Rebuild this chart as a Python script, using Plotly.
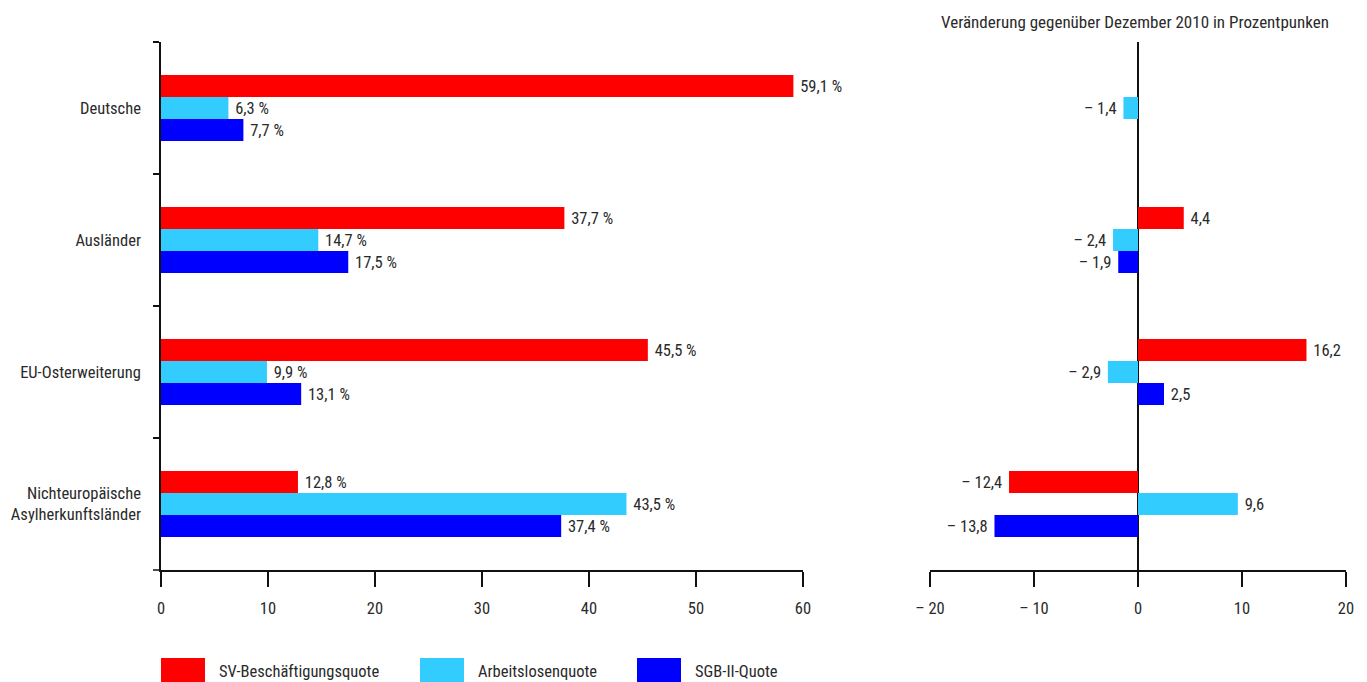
import plotly.graph_objects as go

categories = ["Deutsche", "Ausländer", "EU-Osterweiterung", "Nichteuropäische<br>Asylherkunftsländer"]
series = ["SV-Beschäftigungsquote", "Arbeitslosenquote", "SGB-II-Quote"]
colors = ["#FF0000", "#33CCFF", "#0000FF"]

sv_quote = [59.1, 37.7, 45.5, 12.8]
alo_quote = [6.3, 14.7, 9.9, 43.5]
sgb_quote = [7.7, 17.5, 13.1, 37.4]

sv_change = [None, 4.4, 16.2, -12.4]
alo_change = [-1.4, -2.4, -2.9, 9.6]
sgb_change = [None, -1.9, 2.5, -13.8]

left_ticks = [0, 10, 20, 30, 40, 50, 60]
right_ticks = [-20, -10, 0, 10, 20]
right_ticklabels = ["\u2013 20", "\u2013 10", "0", "10", "20"]
right_title = "Veränderung gegenüber Dezember 2010 in Prozentpunken"

FONT = "Roboto Condensed, Liberation Sans Narrow, sans-serif"
TXT = "#2a2a2a"
FS = 16.5
NB = "\u00a0"


def fmt_num(v):
    if v is None:
        return ""
    s = f"{abs(v):.1f}".replace(".", ",")
    return ("\u2013 " + s + NB) if v < 0 else (NB + s)


def fmt_pct(v):
    return fmt_num(v) + " %"


def fnt(size=FS):
    return dict(family=FONT, size=size, color=TXT)


fig = go.Figure()
left_vals = [sv_quote, alo_quote, sgb_quote]
right_vals = [sv_change, alo_change, sgb_change]

for name, col, vals in zip(series, colors, left_vals):
    fig.add_trace(go.Bar(
        y=categories, x=vals, orientation="h", name=name, marker_color=col,
        marker_line_width=0,
        text=[fmt_pct(v) for v in vals], textposition="outside",
        textfont=fnt(),
        cliponaxis=False, constraintext="none",
        xaxis="x", yaxis="y", showlegend=False, hoverinfo="skip",
    ))

for name, col, vals in zip(series, colors, right_vals):
    fig.add_trace(go.Bar(
        y=categories, x=vals, orientation="h", name=name, marker_color=col,
        marker_line_width=0,
        text=[fmt_num(v) for v in vals], textposition="outside",
        textfont=fnt(),
        cliponaxis=False, constraintext="none",
        xaxis="x2", yaxis="y2", showlegend=False, hoverinfo="skip",
    ))

W, H = 1367, 682
L, R, T, B = 161, 21, 42, 112
PW, PH = W - L - R, H - T - B


def px_x(p):
    return (p - L) / PW


def px_y(p):
    return (H - B - p) / PH


axis_common = dict(showgrid=False, showline=True, linecolor="#111111", linewidth=1.5,
                   ticks="outside", tickcolor="#111111", tickwidth=1.5, automargin=False,
                   tickfont=fnt())

fig.update_layout(
    width=W, height=H,
    margin=dict(l=L, r=R, t=T, b=B, autoexpand=False),
    plot_bgcolor="white", paper_bgcolor="white",
    barmode="group", bargap=0.5, bargroupgap=0,
    font=fnt(),
    xaxis=dict(domain=[0, px_x(803)], range=[0, 60], tickvals=left_ticks,
               ticklen=15, zeroline=False, anchor="y", ticklabelstandoff=7,
               **axis_common),
    yaxis=dict(domain=[0, 1], categoryorder="array", categoryarray=categories,
               autorange="reversed", tickson="boundaries", ticklen=6,
               zeroline=False, anchor="x", ticklabelstandoff=15, **axis_common),
    xaxis2=dict(domain=[px_x(930), 1], range=[-20, 20], tickvals=right_ticks,
                ticktext=right_ticklabels, ticklen=15, zeroline=True,
                zerolinecolor="#111111", zerolinewidth=1.5, anchor="y2",
                ticklabelstandoff=7, **axis_common),
    yaxis2=dict(domain=[0, 1], categoryorder="array", categoryarray=categories,
                autorange="reversed", showticklabels=False, showline=False,
                ticks="", showgrid=False, zeroline=False, anchor="x2"),
)

# small extension of the left x-axis line past the y-axis, as in the original
fig.add_shape(type="line", xref="paper", yref="paper", x0=px_x(153), x1=px_x(161),
              y0=0, y1=0, line=dict(color="#111111", width=1.5))

fig.add_annotation(text=right_title, xref="paper", yref="paper", x=px_x(1135), y=1,
                   yshift=20, showarrow=False, xanchor="center", yanchor="middle",
                   font=fnt(17))

# legend drawn as boxes + labels
legend_x = [161, 420, 637]
for name, col, x0 in zip(series, colors, legend_x):
    fig.add_shape(type="rect", xref="paper", yref="paper",
                  x0=px_x(x0), x1=px_x(x0 + 44), y0=px_y(682), y1=px_y(658),
                  fillcolor=col, line_width=0)
    fig.add_annotation(text=name, xref="paper", yref="paper",
                       x=px_x(x0 + 56), y=px_y(671), showarrow=False,
                       xanchor="left", yanchor="middle",
                       font=fnt())

fig.write_html("out.html")
